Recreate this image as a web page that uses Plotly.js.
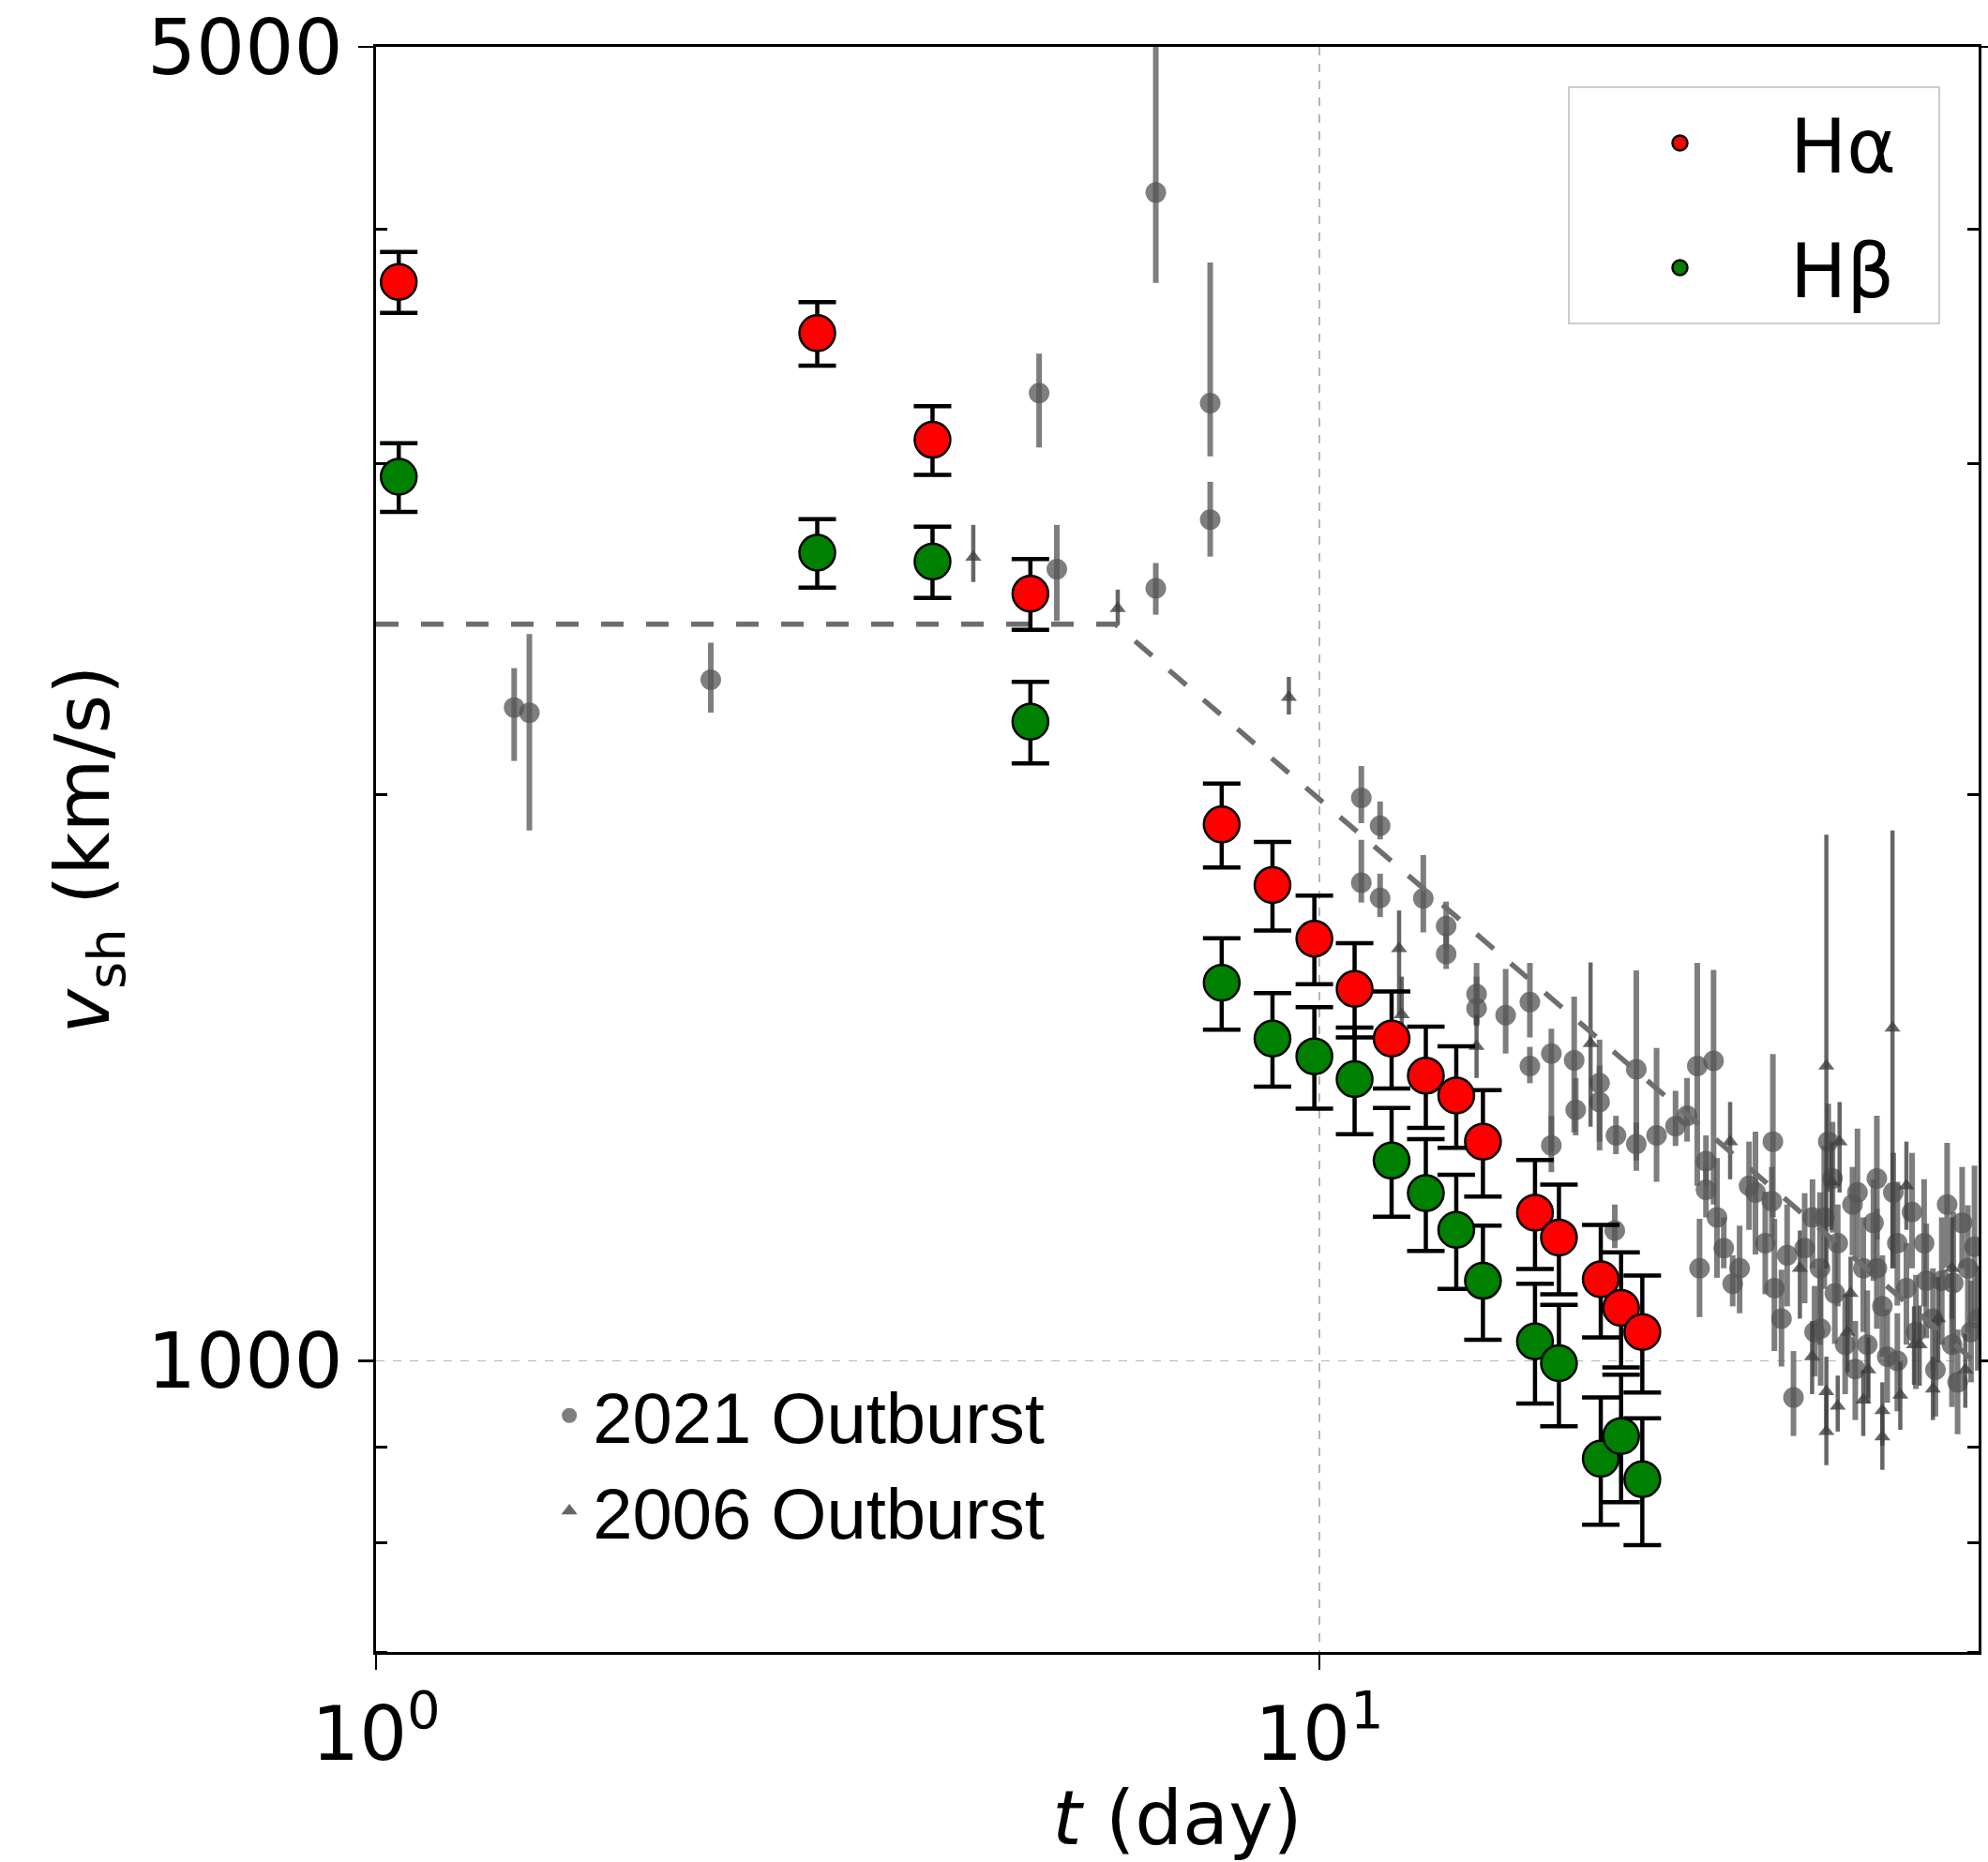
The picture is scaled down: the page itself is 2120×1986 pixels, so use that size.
<!DOCTYPE html>
<html><head><meta charset="utf-8">
<script src="https://cdn.plot.ly/plotly-3.0.1.min.js"></script>
<style>html,body{margin:0;padding:0;background:#fff}</style>
</head><body>
<div id="chart" style="width:2120px;height:1986px"></div>
<script>
// ---- H-alpha shock velocities ----
const tHalpha = [1.057, 2.936, 3.89, 4.94, 7.88, 8.92, 9.88, 10.9, 11.93, 12.97, 13.97, 14.91, 16.93, 17.95, 19.88, 20.89, 22.0];
const vHalpha = [3749, 3521, 3090, 2559, 1929, 1791, 1677, 1577, 1484, 1418, 1384, 1308, 1199, 1163, 1105, 1067, 1036];
const eHalpha = [140, 137, 130, 111, 99, 97, 91, 91, 88, 88, 86, 85, 80, 78, 76, 75, 74];

// ---- H-beta shock velocities ----
const tHbeta = [1.057, 2.936, 3.89, 4.94, 7.88, 8.92, 9.88, 10.9, 11.93, 12.97, 13.97, 14.91, 16.93, 17.95, 19.88, 20.89, 22.0];
const vHbeta = [2953, 2691, 2662, 2188, 1589, 1484, 1452, 1412, 1278, 1228, 1174, 1103, 1024, 997, 887, 912, 865];
const eHbeta = [124, 113, 116, 109, 89, 85, 90, 92, 85, 84, 82, 77, 75, 74, 69, 71, 67];

// ---- 2021 outburst (grey circles) ----
const t2021 = [1.401, 1.454, 2.264, 5.046, 5.269, 6.709, 6.709, 7.662, 7.662, 11.08, 11.60, 11.08, 11.60, 12.89, 13.63, 13.63,
  14.68, 14.68, 15.76, 16.72, 16.72, 17.62, 17.62, 18.63, 18.7, 19.82, 19.82, 20.63, 20.57, 21.68, 21.68, 22.78, 23.86, 24.54,
  25.16, 26.18, 25.70, 25.70, 26.84, 27.43, 30.26, 30.18, 30.37, 31.82, 33.33, 33.95, 34.64, 35.45, 36.75, 37.73, 38.68, 39.53,
  40.6, 41.92, 43.77, 44.72, 45.70, 46.85, 48.03, 49.08, 28.55, 31.33, 34.0, 35.0, 37.0, 39.0, 41.0, 42.5, 47.0, 49.5,
  25.3, 26.4, 27.9, 29.0, 29.7, 30.9, 32.7, 33.5, 34.3, 35.2, 36.1, 37.2, 38.1, 39.0, 40.0, 41.0, 42.9, 44.0, 45.0, 46.3,
  47.5, 48.7, 49.9];
const v2021 = [2226, 2212, 2303, 3272, 2637, 4183, 2576, 3232, 2802, 1993, 1926, 1796, 1763, 1762, 1703, 1646,
  1567, 1540, 1527, 1552, 1435, 1457, 1302, 1445, 1360, 1405, 1373, 1318, 1173, 1429, 1304, 1318, 1333, 1350,
  1435, 1444, 1277, 1233, 1148, 1099, 1308, 1216, 1093, 956, 1192, 1120, 1308, 1155, 1211, 1120, 1184, 1069,
  1229, 1093, 1155, 1053, 1103, 1020, 1184, 1036, 1239, 1138, 1040, 1250, 990, 1250, 1000, 1200, 1100, 1150,
  1120, 1192, 1120, 1229, 1155, 1053, 1148, 1036, 1192, 1086, 1020, 1229, 1020, 1120, 1005, 1155, 1036, 1103, 989, 1211,
  974, 1120, 1053];
const e2021Up = [110, 224, 107, 162, 147, 1000, 81, 607, 133, 79, 58, 97, 53, 96, 52, 44,
  61, 61, 89, 76, 34, 45, 48, 117, 54, 77, 63, 32, 38, 184, 35, 149, 59, 64,
  193, 170, 41, 35, 44, 39, 148, 52, 97, 56, 57, 109, 62, 56, 57, 72, 65, 69,
  61, 62, 94, 67, 89, 66, 84, 67, 69, 73, 80, 90, 60, 100, 60, 90, 100, 120,
  70, 90, 60, 95, 75, 65, 80, 60, 110, 70, 65, 100, 70, 85, 60, 90, 75, 80, 60, 95,
  65, 90, 70];
const e2021Dn = [141, 297, 91, 211, 162, 438, 82, 204, 124, 61, 32, 43, 41, 72, 46, 30,
  57, 33, 70, 66, 30, 164, 42, 122, 42, 111, 65, 30, 25, 167, 26, 73, 32, 42,
  196, 233, 38, 41, 28, 30, 116, 52, 81, 44, 72, 100, 78, 86, 73, 84, 81, 64,
  109, 73, 86, 64, 83, 75, 64, 62, 65, 69, 70, 80, 60, 90, 60, 80, 90, 100,
  65, 85, 60, 90, 70, 60, 75, 55, 100, 65, 60, 95, 65, 80, 55, 85, 70, 75, 55, 90,
  60, 85, 65];

// ---- 2006 outburst (grey triangles) ----
const t2006 = [4.297, 6.114, 9.284, 12.15, 12.23, 14.68, 19.39, 27.26, 34.48, 34.91, 35.61, 34.48, 34.48, 35.45, 37.73, 39.53,
  39.53, 40.52, 41.92, 44.72, 32.32, 36.58, 42.70, 46.85, 33.3, 36.3, 38.2, 41.3, 43.3, 45.3, 48.4];
const v2006 = [2676, 2513, 2254, 1657, 1528, 1470, 1475, 1308, 1435, 1245, 1308, 963, 917, 946, 953, 941,
  911, 1503, 1239, 966, 1120, 1086, 1020, 1120, 1005, 1036, 989, 959, 1020, 1053, 989];
const e2006Up = [108, 59, 57, 79, 73, 58, 154, 65, 470, 63, 65, 42, 42, 36, 36, 33, 34, 412, 69, 39, 53, 50, 49, 72,
  45, 50, 40, 40, 50, 55, 45];
const e2006Dn = [80, 50, 47, 129, 69, 56, 143, 59, 315, 71, 79, 46, 37, 29, 41, 40, 36, 383, 65, 36, 67, 50, 49, 67,
  45, 50, 40, 40, 50, 55, 45];

// ---- model (dashed broken power law) ----
const tModel = [1.0, 6.08, 50.0];
const vModel = [2465, 2465, 995];

// ---- axis ticks ----
const xTickVals = [1, 10];
const xTickText = ['10<sup>0</sup>', '10<sup>1</sup>'];
const yTickVals = [1000, 5000];
const yTickText = ['1000', '5000'];
const yMinorVals = [700, 800, 900, 2000, 3000, 4000];

const grey21 = 'rgba(85,85,85,0.76)';
const grey06 = 'rgba(64,64,64,0.8)';

const traces = [
  {
    x: t2021, y: v2021, type: 'scatter', mode: 'markers', name: '2021 Outburst', legend: 'legend2',
    marker: {symbol: 'circle', size: 22, color: grey21},
    error_y: {type: 'data', symmetric: false, array: e2021Up, arrayminus: e2021Dn, color: grey21, thickness: 6, width: 0},
    legendgroup: 'g21'
  },
  {
    x: t2006, y: v2006, type: 'scatter', mode: 'markers', name: '2006 Outburst', legend: 'legend2',
    marker: {symbol: 'triangle-up', size: 15, color: grey06},
    error_y: {type: 'data', symmetric: false, array: e2006Up, arrayminus: e2006Dn, color: grey06, thickness: 4.5, width: 0},
    legendgroup: 'g06'
  },
  {
    x: tModel, y: vModel, type: 'scatter', mode: 'lines', showlegend: false,
    line: {color: '#6e6e6e', width: 5.5, dash: '24px,24px'}, hoverinfo: 'skip'
  },
  {
    x: tHalpha, y: vHalpha, type: 'scatter', mode: 'markers', name: 'H\u03b1\u2002',
    marker: {symbol: 'circle', size: 38, color: '#ff0000', line: {color: '#000', width: 2.5}},
    error_y: {type: 'data', array: eHalpha, color: '#000', thickness: 4.5, width: 20},
    legendgroup: 'ga'
  },
  {
    x: tHbeta, y: vHbeta, type: 'scatter', mode: 'markers', name: 'H\u03b2\u2002',
    marker: {symbol: 'circle', size: 38, color: '#008000', line: {color: '#000', width: 2.5}},
    error_y: {type: 'data', array: eHbeta, color: '#000', thickness: 4.5, width: 20},
    legendgroup: 'gb'
  }
];

const layout = {
  width: 2120, height: 1986,
  margin: {l: 401, r: 10, t: 50, b: 224},
  paper_bgcolor: '#fff', plot_bgcolor: '#fff',
  font: {family: 'DejaVu Sans', size: 80, color: '#000'},
  xaxis: {
    type: 'log', range: [0, Math.log10(50)],
    tickvals: xTickVals, ticktext: xTickText,
    ticks: 'outside', ticklen: 16, tickwidth: 2.5, tickcolor: '#000',
    showline: true, linecolor: '#000', linewidth: 3, mirror: true,
    showgrid: true, gridcolor: '#b5b5b5', gridwidth: 1.5, griddash: 'dash',
    zeroline: false, tickfont: {size: 80},
    title: {text: '<i>t</i> (day)', font: {size: 80}, standoff: 26}
  },
  yaxis: {
    type: 'log', range: [Math.log10(700), Math.log10(5000)],
    tickvals: yTickVals, ticktext: yTickText,
    ticks: 'outside', ticklen: 16, tickwidth: 2.5, tickcolor: '#000',
    minor: {tickvals: yMinorVals, ticks: 'inside', ticklen: 12, tickwidth: 3, tickcolor: '#000', showgrid: false},
    showline: true, linecolor: '#000', linewidth: 3, mirror: 'allticks',
    showgrid: true, gridcolor: '#b5b5b5', gridwidth: 1.5, griddash: 'dash',
    zeroline: false, tickfont: {size: 82},
    title: {text: '<i>v</i><sub>sh</sub> (km/s)', font: {size: 80}, standoff: 14}
  },
  showlegend: true,
  legend: {
    x: 0.976, xanchor: 'right', y: 0.9755, yanchor: 'top',
    bgcolor: 'rgba(255,255,255,0.85)', bordercolor: '#cccccc', borderwidth: 2,
    font: {family: 'DejaVu Sans', size: 80, color: '#000'},
    tracegroupgap: 26, itemwidth: 225, itemsizing: 'trace'
  },
  legend2: {
    x: 0.106, xanchor: 'left', y: 0.18, yanchor: 'top',
    bgcolor: 'rgba(0,0,0,0)', borderwidth: 0,
    font: {family: 'Liberation Sans', size: 76, color: '#000'},
    tracegroupgap: 0, itemwidth: 40, itemsizing: 'trace'
  }
};

Plotly.newPlot('chart', traces, layout, {displayModeBar: false, staticPlot: true});
</script>
</body></html>
